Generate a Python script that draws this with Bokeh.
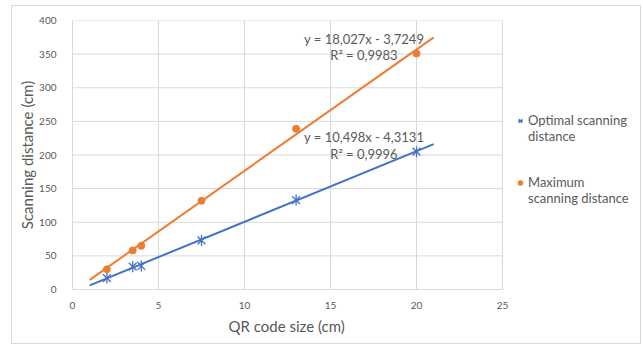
import numpy as np
from bokeh.plotting import figure
from bokeh.models import Legend, LegendItem, Range1d, FixedTicker, Title
from bokeh.core.properties import value
from bokeh.embed import file_html
from bokeh.resources import INLINE

qr_size = [2, 3.5, 4, 7.5, 13, 20]
optimal = [17, 34, 35, 73, 133, 205]
maximum = [30, 58, 65, 132, 239, 351]

opt_slope, opt_icpt = 10.498, -4.3131
max_slope, max_icpt = 18.027, -3.7249
trend_x = [1, 21]

opt_eq = "y = 10,498x - 4,3131"
opt_r2 = "R² = 0,9996"
max_eq = "y = 18,027x - 3,7249"
max_r2 = "R² = 0,9983"

opt_label = ["Optimal scanning", "distance"]
max_label = ["Maximum", "scanning distance"]

x_title = "QR code size (cm)"
y_title = "Scanning distance (cm)"

x_ticks = [0, 5, 10, 15, 20, 25]
y_ticks = [0, 50, 100, 150, 200, 250, 300, 350, 400]
x_max, y_max = 25, 400

BLUE = "#4472C4"
ORANGE = "#ED7D31"
GREY = "#595959"
GRID = "#d9d9d9"
FONT = "Lato"

# layout: axes area is 430 px wide; frame extends to the right to host the legend
W, H = 628, 337
LEFT, TOP, BOTTOM = 60, 14, 54
AXES_W = 430
frame_w = W - LEFT
x_end = x_max * frame_w / AXES_W

p = figure(width=W, height=H, output_backend="svg", toolbar_location=None,
           x_range=Range1d(0, x_end), y_range=Range1d(0, y_max),
           min_border_left=LEFT, min_border_right=0, min_border_top=TOP, min_border_bottom=BOTTOM)
p.outline_line_color = None
p.styles = {"margin-left": "12px", "margin-top": "6px", "outline": "1px solid #d9d9d9"}

for ax in (p.xaxis[0], p.yaxis[0]):
    ax.axis_line_color = GRID
    ax.major_tick_line_color = None
    ax.minor_tick_line_color = None
    ax.major_label_text_color = GREY
    ax.major_label_text_font = FONT
    ax.major_label_text_font_size = "10px"
    ax.axis_label_text_color = GREY
    ax.axis_label_text_font = FONT
    ax.axis_label_text_font_size = "15px"
    ax.axis_label_text_font_style = "normal"
p.xaxis.ticker = FixedTicker(ticks=x_ticks)
p.yaxis.ticker = FixedTicker(ticks=y_ticks)
p.xaxis.bounds = (0, x_max)
p.yaxis.axis_label = y_title
p.xaxis.major_label_standoff = 6
p.yaxis.major_label_standoff = 10
p.yaxis.axis_label_standoff = 0
p.xgrid.grid_line_color = GRID
p.ygrid.grid_line_color = None

xt = Title(text=x_title, align="left", offset=156, text_font=FONT, text_font_size="15px",
           text_color=GREY, text_font_style="normal", standoff=7)
p.add_layout(xt, "below")

# horizontal gridlines limited to the axes area
gy = [t for t in y_ticks if t > 0]
p.segment(x0=[0] * len(gy), y0=gy, x1=[x_max] * len(gy), y1=gy, line_color=GRID, line_width=1)

tx = np.array(trend_x, dtype=float)
p.line(tx, opt_slope * tx + opt_icpt, line_color=BLUE, line_width=2)
p.line(tx, max_slope * tx + max_icpt, line_color=ORANGE, line_width=2)

r_opt_x = p.scatter(qr_size, optimal, marker="x", size=11, line_color=BLUE, line_width=1.3)
r_opt_d = p.scatter(qr_size, optimal, marker="dash", angle=np.pi / 2, size=11, line_color=BLUE, line_width=1.3)
r_max = p.scatter(qr_size, maximum, marker="circle", size=7, fill_color=ORANGE, line_color=ORANGE)
r_blank = p.scatter(x=[], y=[], marker="circle", size=1, fill_alpha=0, line_alpha=0)

txt = dict(text_font=value(FONT), text_font_size="13px", text_color=GREY,
           text_align="right", text_baseline="middle")
p.text(x=[20.45], y=[373], text=[max_eq], **txt)
p.text(x=[18.9], y=[348], text=[max_r2], **txt)
p.text(x=[20.45], y=[227], text=[opt_eq], **txt)
p.text(x=[18.9], y=[202], text=[opt_r2], **txt)

legend = Legend(items=[
    LegendItem(label=opt_label[0], renderers=[r_opt_x, r_opt_d]),
    LegendItem(label=opt_label[1], renderers=[r_blank]),
    LegendItem(label=" ", renderers=[r_blank]),
    LegendItem(label=" ", renderers=[r_blank]),
    LegendItem(label=max_label[0], renderers=[r_max]),
    LegendItem(label=max_label[1], renderers=[r_blank]),
], location=(AXES_W + 12, 83))
legend.border_line_color = None
legend.background_fill_alpha = 0
legend.label_text_font = FONT
legend.label_text_font_size = "13px"
legend.label_text_color = GREY
legend.glyph_width = 12
legend.glyph_height = 15
legend.label_height = 15
legend.label_standoff = 2
legend.spacing = -1
legend.padding = 10
legend.margin = 0
p.add_layout(legend, "center")

open("out.html", "w").write(file_html(p, INLINE))
